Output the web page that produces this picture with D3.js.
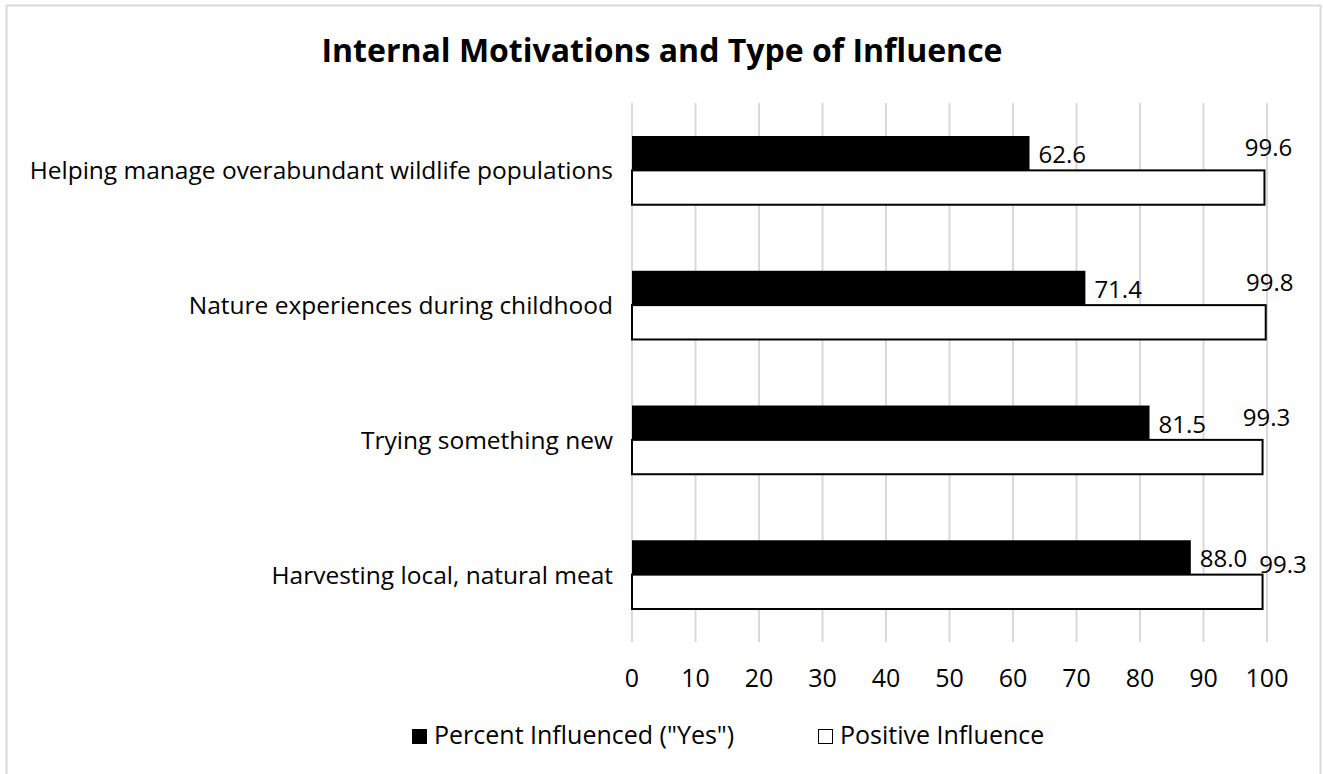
<!DOCTYPE html>
<html>
<head>
<meta charset="utf-8">
<script src="https://cdn.jsdelivr.net/npm/d3@7"></script>
<style>
  body { margin: 0; background: #fff; }
  text { font-family: "Open Sans", "Noto Sans", sans-serif; fill: #000; }
</style>
</head>
<body>
<script>
// categories top to bottom, as in the chart
var categories = [
  "Helping manage overabundant wildlife populations",
  "Nature experiences during childhood",
  "Trying something new",
  "Harvesting local, natural meat"
];
var percentInfluenced = [62.6, 71.4, 81.5, 88.0];
var positiveInfluence = [99.6, 99.8, 99.3, 99.3];
var seriesNames = ['Percent Influenced ("Yes")', "Positive Influence"];
var xTicks = [0, 10, 20, 30, 40, 50, 60, 70, 80, 90, 100];

var W = 1323, H = 774;
var plot = {left: 632, right: 1267, top: 103, bottom: 642};

var svg = d3.select("body").append("svg")
  .attr("width", W)
  .attr("height", H);

// outer chart border (bottom edge runs off the picture)
svg.append("rect")
  .attr("x", 6.5).attr("y", 5.5)
  .attr("width", 1314).attr("height", 800)
  .attr("fill", "#fff")
  .attr("stroke", "#d9d9d9")
  .attr("stroke-width", 2);

svg.append("text")
  .attr("x", 662).attr("y", 62)
  .attr("text-anchor", "middle")
  .attr("font-size", 32)
  .attr("font-weight", "bold")
  .text("Internal Motivations and Type of Influence");

var x = d3.scaleLinear().domain([0, 100]).range([plot.left, plot.right]);
var y = d3.scaleBand().domain(categories).range([plot.top, plot.bottom]).paddingInner(0.49).paddingOuter(0.245);
var barH = y.bandwidth() / 2;

// gridlines
svg.append("g").selectAll("line")
  .data(xTicks)
  .join("line")
  .attr("x1", d => x(d)).attr("x2", d => x(d))
  .attr("y1", plot.top).attr("y2", plot.bottom)
  .attr("stroke", "#d9d9d9")
  .attr("stroke-width", 2);

// tick labels
svg.append("g").selectAll("text")
  .data(xTicks)
  .join("text")
  .attr("x", d => x(d))
  .attr("y", 687)
  .attr("text-anchor", "middle")
  .attr("font-size", 25)
  .text(d => d);

// category labels
svg.append("g").selectAll("text")
  .data(categories)
  .join("text")
  .attr("x", 613)
  .attr("y", d => y(d) + barH + 9)
  .attr("text-anchor", "end")
  .attr("font-size", 24.5)
  .text(d => d);

// black bars
svg.append("g").selectAll("rect")
  .data(categories)
  .join("rect")
  .attr("x", x(0))
  .attr("y", d => y(d))
  .attr("width", (d, i) => x(percentInfluenced[i]) - x(0))
  .attr("height", barH)
  .attr("fill", "#000");

// white bars
svg.append("g").selectAll("rect")
  .data(categories)
  .join("rect")
  .attr("x", x(0))
  .attr("y", d => y(d) + barH)
  .attr("width", (d, i) => x(positiveInfluence[i]) - x(0))
  .attr("height", barH)
  .attr("fill", "#fff")
  .attr("stroke", "#000")
  .attr("stroke-width", 2);

// value labels
var blackLabels = svg.append("g").selectAll("text")
  .data(categories)
  .join("text")
  .attr("x", (d, i) => x(percentInfluenced[i]) + 9)
  .attr("y", d => y(d) + 27)
  .attr("font-size", 24)
  .text((d, i) => percentInfluenced[i].toFixed(1));

// white-bar labels sit over the bar end, pushed right if they would hit the black label
var blackRight = blackLabels.nodes().map(function(n, i) {
  return x(percentInfluenced[i]) + 9 + n.getComputedTextLength();
});
svg.append("g").selectAll("text")
  .data(categories)
  .join("text")
  .attr("font-size", 24)
  .text((d, i) => positiveInfluence[i].toFixed(1))
  .each(function(d, i) {
    var w = this.getComputedTextLength();
    var left = x(positiveInfluence[i]) + 4 - w / 2;
    var pushed = left < blackRight[i] + 10;
    if (pushed) left = blackRight[i] + 12;
    d3.select(this)
      .attr("x", left)
      .attr("y", y(d) + (pushed ? 33 : 20));
  });

// legend
var legend = svg.append("g");
var lx = [412, 818];
var lfill = ["#000", "#fff"];
seriesNames.forEach(function(name, i) {
  legend.append("rect")
    .attr("x", lx[i] + 0.5).attr("y", 729.5)
    .attr("width", 14).attr("height", 14)
    .attr("fill", lfill[i])
    .attr("stroke", "#000")
    .attr("stroke-width", 1);
  legend.append("text")
    .attr("x", lx[i] + 22).attr("y", 744)
    .attr("font-size", 25)
    .text(name);
});
</script>
</body>
</html>
